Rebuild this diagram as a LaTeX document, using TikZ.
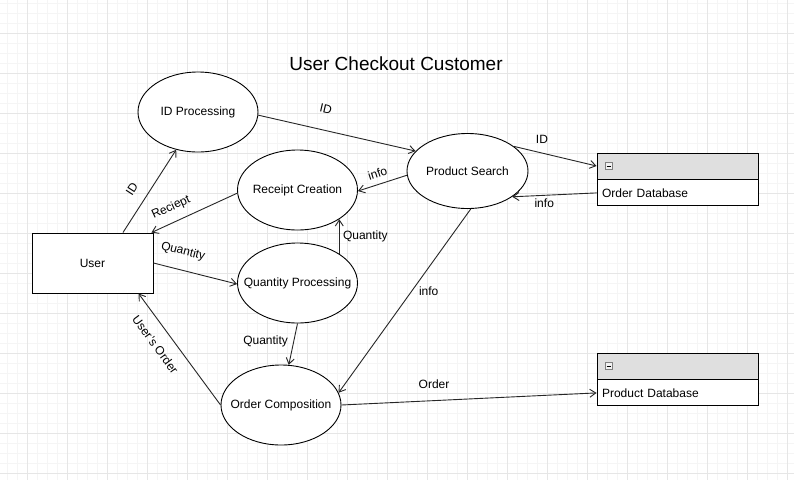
\documentclass[tikz,border=0pt]{standalone}
\usepackage{fontspec}
\setmainfont{Liberation Sans}
\usetikzlibrary{shapes.geometric,arrows.meta}

\definecolor{rejamenor}{HTML}{F5F5F5}
\definecolor{rejamayor}{HTML}{E6E6E6}
\definecolor{linea}{HTML}{262626}

\tikzset{
  proceso/.style={ellipse, draw=black, line width=0.9pt, fill=white,
    inner xsep=-25pt, inner ysep=0pt,
    minimum width=120pt, minimum height=80pt},
  entidad/.style={rectangle, draw=black, line width=0.9pt, fill=white,
    minimum width=121pt, minimum height=60pt},
  cabecera/.style={rectangle, draw=black, line width=0.9pt, fill=gray!25,
    minimum width=161pt, minimum height=26pt, inner sep=0pt},
  cuerpo/.style={rectangle, draw=black, line width=0.9pt, fill=white,
    text width=151pt, inner xsep=5pt, inner ysep=0pt, minimum height=26pt, align=left},
  icono/.style={rectangle, draw=gray, line width=0.6pt, fill=gray!10,
    minimum size=7pt, inner sep=0pt,
    path picture={\draw[black, line width=0.8pt]
      ([xshift=1.5pt]path picture bounding box.west) --
      ([xshift=-1.5pt]path picture bounding box.east);}},
  flecha/.style={draw=linea, line width=0.9pt, -{Straight Barb[length=6pt,width=8pt]}},
  etiq/.style={font=\fontsize{12}{14}\selectfont, text=black},
  titulo/.style={font=\fontsize{19}{22}\selectfont},
  gridmenor/.style={draw=rejamenor, line width=0.8pt},
  gridmayor/.style={draw=rejamayor, line width=0.8pt}
}

\begin{document}
\begin{tikzpicture}[x=1pt, y=-1pt, font=\fontsize{12}{14}\selectfont]
  \useasboundingbox (0,0) rectangle (794,480);
  \fill[white] (0,0) rectangle (794,480);

  % Cuadricula de fondo
  \foreach \x in {7,17,...,787} \draw[gridmenor] (\x,0) -- (\x,480);
  \foreach \y in {3,13,...,473} \draw[gridmenor] (0,\y) -- (794,\y);
  \foreach \x in {27,67,...,787} \draw[gridmayor] (\x,0) -- (\x,480);
  \foreach \y in {33,73,...,473} \draw[gridmayor] (0,\y) -- (794,\y);

  % Titulo
  \node[titulo] (tit) at (396,64) {User Checkout Customer};

  % Procesos
  \node[proceso] (idp) at (198,112) {ID Processing};
  \node[proceso] (rc) at (297.5,190) {Receipt Creation};
  \node[proceso] (qp) at (297.5,283) {Quantity Processing};
  \node[proceso] (oc) at (281,405) {Order Composition};
  \node[proceso, minimum width=121pt, minimum height=75pt] (ps) at (467.5,171) {Product Search};

  % Entidad externa
  \node[entidad] (user) at (92.5,263) {User};

  % Almacenes de datos
  \node[cabecera] (odbh) at (677.5,166) {};
  \node[cuerpo, anchor=north] (odb) at (odbh.south) {Order Database};
  \node[icono] (odbi) at ([xshift=12pt]odbh.west) {};
  \node[cabecera] (pdbh) at (677.5,366) {};
  \node[cuerpo, anchor=north] (pdb) at (pdbh.south) {Product Database};
  \node[icono] (pdbi) at ([xshift=12pt]pdbh.west) {};

  % Flujos
  \draw[flecha] (user.45) -- (idp.240)
    node[etiq, sloped, above=8pt, pos=0.42] {ID};
  \draw[flecha] (idp.357) -- (ps.159)
    node[etiq, sloped, above=13pt, pos=0.40] {ID};
  \draw[flecha] (ps.28) -- (odbh.west)
    node[etiq, above=6pt, pos=0.34] {ID};
  \draw[flecha] (odb.west) -- (ps.330)
    node[etiq, below=0pt, pos=0.62] {info};
  \draw[flecha] (ps.184) -- (rc.359)
    node[etiq, sloped, above=3pt, pos=0.53] {info};
  \draw[flecha] (rc.183) -- ([xshift=-2pt]user.north east)
    node[etiq, sloped, above=5pt, pos=0.70] {Reciept};
  \draw[flecha] (user.east) -- (qp.181)
    node[etiq, sloped, above=9pt, pos=0.30] {Quantity};
  \draw[flecha] (qp.35) -- (rc.325)
    node[etiq, right, pos=0.5] {Quantity};
  \draw[flecha] (qp.south) -- (oc.79)
    node[etiq, left=2pt, pos=0.43] {Quantity};
  \draw[flecha] (ps.275) -- (oc.12)
    node[etiq, right=3.5pt, pos=0.447] {info};
  \draw[flecha] (oc.west) -- ([xshift=46pt]user.south)
    node[etiq, sloped, below=8.5pt, pos=0.63] {User's Order};
  \draw[flecha] (oc.east) -- (pdb.west)
    node[etiq, above=8.5pt, pos=0.363] {Order};
\end{tikzpicture}
\end{document}
